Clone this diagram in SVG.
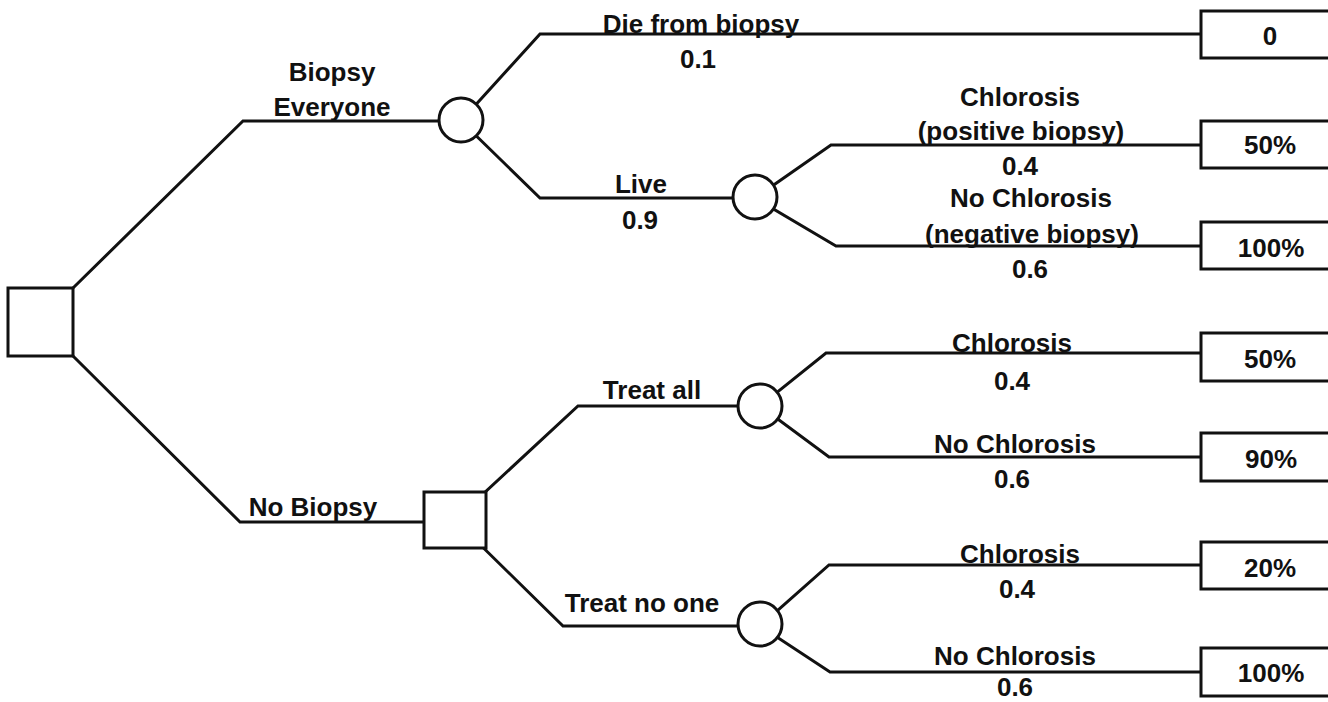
<svg xmlns="http://www.w3.org/2000/svg" width="1328" height="702" viewBox="0 0 1328 702">
<style>
.ln{fill:none;stroke:#111;stroke-width:3;stroke-linejoin:miter}
.nd{fill:#fff;stroke:#111;stroke-width:3}
.t{font-family:"Liberation Sans",Arial,sans-serif;font-weight:bold;font-size:26px;fill:#111;text-anchor:middle}
</style>
<rect width="1328" height="702" fill="#fff"/>
<g id="connectors">
<polyline class="ln" points="73,288 243,121 461,121"/>
<polyline class="ln" points="73,356 240,522 455,522"/>
<polyline class="ln" points="461,121 540,34 1201,34"/>
<polyline class="ln" points="461,121 540,198 755,198"/>
<polyline class="ln" points="755,198 831,145 1201,145"/>
<polyline class="ln" points="755,198 836,246 1201,246"/>
<polyline class="ln" points="455,520 578,406 760,406"/>
<polyline class="ln" points="455,520 563,626 760,626"/>
<polyline class="ln" points="760,406 826,353 1201,353"/>
<polyline class="ln" points="760,406 829,457 1201,457"/>
<polyline class="ln" points="760,626 829,565 1201,565"/>
<polyline class="ln" points="760,626 830,672 1201,672"/>
</g>
<g id="root"><rect class="nd" x="8" y="288" width="65" height="68"/></g>
<g id="chance-biopsy"><circle class="nd" cx="461" cy="120" r="22"/></g>
<g id="chance-live"><circle class="nd" cx="755" cy="197" r="22"/></g>
<g id="decision-nobiopsy"><rect class="nd" x="424" y="492" width="62" height="56"/></g>
<g id="chance-treatall"><circle class="nd" cx="760" cy="406" r="22"/></g>
<g id="chance-treatnone"><circle class="nd" cx="760" cy="624" r="22"/></g>
<g id="out-0"><rect class="nd" x="1201" y="11" width="132" height="47"/><text class="t" x="1270" y="45">0</text></g>
<g id="out-50a"><rect class="nd" x="1201" y="121" width="132" height="47"/><text class="t" x="1270" y="154">50%</text></g>
<g id="out-100a"><rect class="nd" x="1201" y="222" width="132" height="47"/><text class="t" x="1271" y="257">100%</text></g>
<g id="out-50b"><rect class="nd" x="1201" y="333" width="132" height="48"/><text class="t" x="1270" y="368">50%</text></g>
<g id="out-90"><rect class="nd" x="1201" y="433" width="132" height="48"/><text class="t" x="1271" y="468">90%</text></g>
<g id="out-20"><rect class="nd" x="1201" y="542" width="132" height="47"/><text class="t" x="1270" y="577">20%</text></g>
<g id="out-100b"><rect class="nd" x="1201" y="648" width="132" height="48"/><text class="t" x="1271" y="682">100%</text></g>
<g id="labels">
<text class="t" x="332" y="81">Biopsy</text>
<text class="t" x="332" y="116">Everyone</text>
<text class="t" x="701" y="33">Die from biopsy</text>
<text class="t" x="698" y="68">0.1</text>
<text class="t" x="641" y="193">Live</text>
<text class="t" x="640" y="229">0.9</text>
<text class="t" x="1020" y="106">Chlorosis</text>
<text class="t" x="1021" y="140">(positive biopsy)</text>
<text class="t" x="1020" y="175">0.4</text>
<text class="t" x="1031" y="207">No Chlorosis</text>
<text class="t" x="1032" y="243">(negative biopsy)</text>
<text class="t" x="1030" y="278">0.6</text>
<text class="t" x="652" y="399">Treat all</text>
<text class="t" x="1012" y="352">Chlorosis</text>
<text class="t" x="1012" y="390">0.4</text>
<text class="t" x="1015" y="453">No Chlorosis</text>
<text class="t" x="1012" y="488">0.6</text>
<text class="t" x="313" y="516">No Biopsy</text>
<text class="t" x="642" y="612">Treat no one</text>
<text class="t" x="1020" y="563">Chlorosis</text>
<text class="t" x="1017" y="598">0.4</text>
<text class="t" x="1015" y="665">No Chlorosis</text>
<text class="t" x="1015" y="696">0.6</text>
</g>
</svg>
